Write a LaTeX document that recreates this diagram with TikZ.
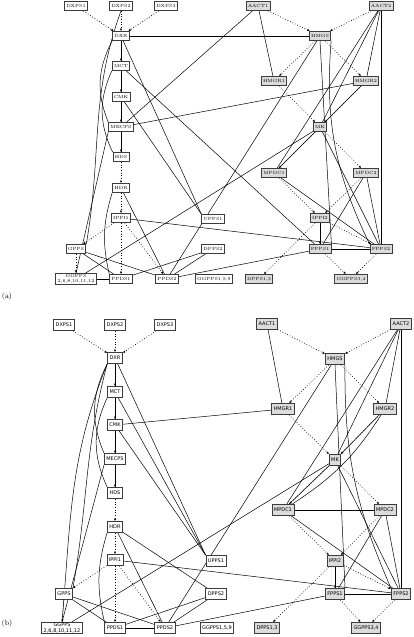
\documentclass[tikz,border=0pt]{standalone}
\usepackage{fontspec}
\newfontfamily\panelsans{DejaVu Sans}
\definecolor{mvagray}{HTML}{DCDCDC}
\definecolor{boxborder}{HTML}{3C3C3C}
\usetikzlibrary{arrows.meta,backgrounds}
\tikzset{
    genenode/.style={
        draw=boxborder,
        fill=white,
        line width=0.8pt,
        inner xsep=1.8pt,
        inner ysep=1pt,
        minimum height=9pt,
        align=center,
        font=\fontsize{4.5}{5}\selectfont
    },
    genemva/.style={
        genenode,
        fill=mvagray
    },
    sansnode/.style={
        genenode,
        inner xsep=2pt,
        minimum height=11pt,
        font=\panelsans\fontsize{5}{5.5}\selectfont
    },
    sansmva/.style={
        sansnode,
        fill=mvagray
    },
    pathwayarrow/.style={
        -{Latex[length=2.6pt,width=2.4pt]},
        dotted,
        line width=0.7pt
    },
    coexpression/.style={
        draw=black,
        line width=0.5pt
    },
    panellabel/.style={
        font=\fontsize{7.5}{8}\selectfont
    }
}

\begin{document}
\begin{tikzpicture}[x=1pt,y=-1pt]
    \useasboundingbox (0,0) rectangle (414,637);

    % (a)
    \node[genenode] (aDXPS1) at (76,6) {DXPS1};
    \node[genenode] (aDXPS2) at (121,6) {DXPS2};
    \node[genenode] (aDXPS3) at (166,6) {DXPS3};
    \node[genemva] (aAACT1) at (258,6) {AACT1};
    \node[genemva] (aAACT2) at (381,6) {AACT2};
    \node[genenode] (aDXR) at (121,36) {DXR};
    \node[genemva] (aHMGS) at (320,36) {HMGS};
    \node[genenode] (aMCT) at (121,66) {MCT};
    \node[genemva] (aHMGR1) at (274,81) {HMGR1};
    \node[genemva] (aHMGR2) at (366,81) {HMGR2};
    \node[genenode] (aCMK) at (121,97) {CMK};
    \node[genenode] (aMECPS) at (121,127) {MECPS};
    \node[genemva] (aMK) at (320,127) {MK};
    \node[genenode] (aHDS) at (121,157) {HDS};
    \node[genemva] (aMPDC1) at (274,173) {MPDC1};
    \node[genemva] (aMPDC2) at (366,173) {MPDC2};
    \node[genenode] (aHDR) at (121,188) {HDR};
    \node[genenode] (aIPPI1) at (121,218) {IPPI1};
    \node[genenode] (aUPPS1) at (213,219) {UPPS1};
    \node[genemva] (aIPPI2) at (320,218) {IPPI2};
    \node[genenode] (aGPPS) at (76,249) {GPPS};
    \node[genenode] (aDPPS2) at (213,249) {DPPS2};
    \node[genemva] (aFPPS1) at (320,249) {FPPS1};
    \node[genemva] (aFPPS2) at (381,249) {FPPS2};
    \node[genenode] (aGGPPS2) at (76,279) {GGPPS\\2,6,8,10,11,12};
    \node[genenode] (aPPDS1) at (121,279) {PPDS1};
    \node[genenode] (aPPDS2) at (167,279) {PPDS2};
    \node[genenode] (aGGPPS1) at (214,279) {GGPPS1,5,9};
    \node[genemva] (aDPPS1) at (259,279) {DPPS1,3};
    \node[genemva] (aGGPPS3) at (351,279) {GGPPS3,4};
    \node[panellabel] (alabel) at (7,297) {(a)};

    % (b)
    \node[sansnode] (bDXPS1) at (64,325) {DXPS1};
    \node[sansnode] (bDXPS2) at (115,325) {DXPS2};
    \node[sansnode] (bDXPS3) at (165,325) {DXPS3};
    \node[sansmva] (bAACT1) at (267,324) {AACT1};
    \node[sansmva] (bAACT2) at (401,324) {AACT2};
    \node[sansnode] (bDXR) at (115,358) {DXR};
    \node[sansmva] (bHMGS) at (335,359) {HMGS};
    \node[sansnode] (bMCT) at (115,392) {MCT};
    \node[sansmva] (bHMGR1) at (283,409) {HMGR1};
    \node[sansmva] (bHMGR2) at (385,409) {HMGR2};
    \node[sansnode] (bCMK) at (115,425) {CMK};
    \node[sansnode] (bMECPS) at (115,459) {MECPS};
    \node[sansmva] (bMK) at (335,460) {MK};
    \node[sansnode] (bHDS) at (115,493) {HDS};
    \node[sansmva] (bMPDC1) at (283,510) {MPDC1};
    \node[sansmva] (bMPDC2) at (385,510) {MPDC2};
    \node[sansnode] (bHDR) at (115,527) {HDR};
    \node[sansnode] (bIPPI1) at (115,560) {IPPI1};
    \node[sansnode] (bUPPS1) at (216,561) {UPPS1};
    \node[sansmva] (bIPPI2) at (335,561) {IPPI2};
    \node[sansnode] (bGPPS) at (64,594) {GPPS};
    \node[sansnode] (bDPPS2) at (216,594) {DPPS2};
    \node[sansmva] (bFPPS1) at (335,594) {FPPS1};
    \node[sansmva] (bFPPS2) at (401,594) {FPPS2};
    \node[sansnode,inner ysep=0.5pt] (bGGPPS2) at (62,628) {GGPPS\\2,6,8,10,11,12};
    \node[sansnode] (bPPDS1) at (115,628) {PPDS1};
    \node[sansnode] (bPPDS2) at (165,628) {PPDS2};
    \node[sansnode] (bGGPPS1) at (217,628) {GGPPS1,5,9};
    \node[sansmva] (bDPPS1) at (267,628) {DPPS1,3};
    \node[sansmva] (bGGPPS3) at (366,628) {GGPPS3,4};
    \node[panellabel] (blabel) at (7,624) {(b)};

    \begin{pgfonlayer}{background}
    % pathway steps (a)
    \draw[pathwayarrow] (aDXPS1) -- (aDXR);
    \draw[pathwayarrow] (aDXPS2) -- (aDXR);
    \draw[pathwayarrow] (aDXPS3) -- (aDXR);
    \draw[pathwayarrow] (aDXR) -- (aMCT);
    \draw[pathwayarrow] (aMCT) -- (aCMK);
    \draw[pathwayarrow] (aCMK) -- (aMECPS);
    \draw[pathwayarrow] (aMECPS) -- (aHDS);
    \draw[pathwayarrow] (aHDS) -- (aHDR);
    \draw[pathwayarrow] (aHDR) -- (aIPPI1);
    \draw[pathwayarrow] (aIPPI1) -- (aGPPS);
    \draw[pathwayarrow] (aIPPI1) -- (aPPDS1);
    \draw[pathwayarrow] (aIPPI1) -- (aPPDS2);
    \draw[pathwayarrow] (aGPPS) -- (aGGPPS2);
    \draw[pathwayarrow] (aAACT1) -- (aHMGS);
    \draw[pathwayarrow] (aAACT2) -- (aHMGS);
    \draw[pathwayarrow] (aHMGS) -- (aHMGR1);
    \draw[pathwayarrow] (aHMGS) -- (aHMGR2);
    \draw[pathwayarrow] (aHMGR1) -- (aMK);
    \draw[pathwayarrow] (aHMGR2) -- (aMK);
    \draw[pathwayarrow] (aMK) -- (aMPDC1);
    \draw[pathwayarrow] (aMK) -- (aMPDC2);
    \draw[pathwayarrow] (aMPDC1) -- (aIPPI2);
    \draw[pathwayarrow] (aMPDC2) -- (aIPPI2);
    \draw[pathwayarrow] (aIPPI2) -- (aFPPS1);
    \draw[pathwayarrow] (aIPPI2) -- (aFPPS2);
    \draw[pathwayarrow] (aIPPI2) -- (aDPPS1);
    \draw[pathwayarrow] (aFPPS1) -- (aGGPPS3);
    \draw[pathwayarrow] (aFPPS2) -- (aGGPPS3);

    % co-expression links (a)
    \draw[coexpression] (aDXR) -- (aMCT);
    \draw[coexpression] (aMCT) -- (aCMK);
    \draw[coexpression] (aCMK) -- (aMECPS);
    \draw[coexpression] (aMECPS) -- (aHDS);
    \draw[coexpression] (aHMGR2) -- (aMK);
    \draw[coexpression] (aMK) -- (aMPDC1);
    \draw[coexpression] (aIPPI2) -- (aFPPS1);
    \draw[coexpression] (aDXR) -- (aHMGS);
    \draw[coexpression] (aDXR) -- (aUPPS1.north west);
    \draw[coexpression] (aCMK) -- (aUPPS1.north west);
    \draw[coexpression] (aMCT) -- (aFPPS1);
    \draw[coexpression] (aMECPS) -- (aHMGR2);
    \draw[coexpression] (aMECPS) -- (aAACT1);
    \draw[coexpression] (aDXPS2.south) to[out=-110,in=80] (aGPPS.north east);
    \draw[coexpression] (aDXR.south west) to[bend right=25] (aMECPS.north west);
    \draw[coexpression] (aMCT.south west) to[bend right=25] (aHDS.north west);
    \draw[coexpression] (aMECPS.south west) -- (aGGPPS2.north);
    \draw[coexpression] (aHDR.south west) to[bend right=15] (aPPDS1.north west);
    \draw[coexpression] (aHDR) -- (aPPDS2);
    \draw[coexpression] (aGPPS) -- (aPPDS1);
    \draw[coexpression] (aGPPS) -- (aPPDS2);
    \draw[coexpression] (aDPPS2) -- (aPPDS1);
    \draw[coexpression] (aDPPS2) -- (aPPDS2);
    \draw[coexpression] (aGGPPS2) -- (aPPDS1);
    \draw[coexpression] (aIPPI1) -- (aFPPS2);
    \draw[coexpression] (aFPPS1) -- (aPPDS2);
    \draw[coexpression] (aHMGS) -- (aPPDS2);
    \draw[coexpression] (aHMGS.south) -- (aFPPS1.north east);
    \draw[coexpression] (aHMGS.south east) to[bend right=15] (aFPPS2.north west);
    \draw[coexpression] (aAACT1) -- (aHMGR1);
    \draw[coexpression] (aAACT2) -- (aHMGR2);
    \draw[coexpression] (aAACT2) -- (aMK);
    \draw[coexpression] (aAACT2) -- (aMPDC1);
    \draw[coexpression] (aAACT2) -- (aFPPS2);
    \draw[coexpression] (aMK) -- (aFPPS2);
    \draw[coexpression] (aMK) -- (aGGPPS2);
    \draw[coexpression] (aMPDC1) -- (aFPPS2);
    \draw[coexpression] (aMPDC2) -- (aFPPS1);
    \draw[coexpression] (aMPDC2) -- (aFPPS2);
    \draw[coexpression] (aFPPS1) -- (aFPPS2);

    % pathway steps (b)
    \draw[pathwayarrow] (bDXPS1) -- (bDXR);
    \draw[pathwayarrow] (bDXPS2) -- (bDXR);
    \draw[pathwayarrow] (bDXPS3) -- (bDXR);
    \draw[pathwayarrow] (bDXR) -- (bMCT);
    \draw[pathwayarrow] (bMCT) -- (bCMK);
    \draw[pathwayarrow] (bCMK) -- (bMECPS);
    \draw[pathwayarrow] (bMECPS) -- (bHDS);
    \draw[pathwayarrow] (bHDS) -- (bHDR);
    \draw[pathwayarrow] (bHDR) -- (bIPPI1);
    \draw[pathwayarrow] (bIPPI1) -- (bGPPS);
    \draw[pathwayarrow] (bIPPI1) -- (bPPDS1);
    \draw[pathwayarrow] (bIPPI1) -- (bPPDS2);
    \draw[pathwayarrow] (bGPPS) -- (bGGPPS2);
    \draw[pathwayarrow] (bAACT1) -- (bHMGS);
    \draw[pathwayarrow] (bAACT2) -- (bHMGS);
    \draw[pathwayarrow] (bHMGS) -- (bHMGR1);
    \draw[pathwayarrow] (bHMGS) -- (bHMGR2);
    \draw[pathwayarrow] (bHMGR1) -- (bMK);
    \draw[pathwayarrow] (bHMGR2) -- (bMK);
    \draw[pathwayarrow] (bMK) -- (bMPDC1);
    \draw[pathwayarrow] (bMK) -- (bMPDC2);
    \draw[pathwayarrow] (bMPDC1) -- (bIPPI2);
    \draw[pathwayarrow] (bMPDC2) -- (bIPPI2);
    \draw[pathwayarrow] (bIPPI2) -- (bFPPS1);
    \draw[pathwayarrow] (bIPPI2) -- (bFPPS2);
    \draw[pathwayarrow] (bIPPI2) -- (bDPPS1);
    \draw[pathwayarrow] (bFPPS1) -- (bGGPPS3);
    \draw[pathwayarrow] (bFPPS2) -- (bGGPPS3);

    % co-expression links (b)
    \draw[coexpression] (bDXR) -- (bMCT);
    \draw[coexpression] (bMCT) -- (bCMK);
    \draw[coexpression] (bCMK) -- (bMECPS);
    \draw[coexpression] (bMECPS) -- (bHDS);
    \draw[coexpression] (bHMGR2) -- (bMK);
    \draw[coexpression] (bMK) -- (bMPDC1);
    \draw[coexpression] (bIPPI2) -- (bFPPS1);
    \draw[coexpression] (bDXR) -- (bUPPS1.north west);
    \draw[coexpression] (bMCT) -- (bUPPS1.north west);
    \draw[coexpression] (bCMK) -- (bUPPS1.north west);
    \draw[coexpression] (bCMK) -- (bHMGR1);
    \draw[coexpression] (bDXR.south west) to[out=-105,in=80] (bGPPS.north east);
    \draw[coexpression] (bDXR.south west) to[out=-112,in=85] (bGGPPS2.north);
    \draw[coexpression] (bDXR.south west) to[bend right=25] (bMECPS.north west);
    \draw[coexpression] (bMCT.south west) to[bend right=25] (bHDS.north west);
    \draw[coexpression] (bMECPS.south west) -- (bGGPPS2.north);
    \draw[coexpression] (bHDR.south west) to[bend right=15] (bPPDS1.north west);
    \draw[coexpression] (bHDR) -- (bPPDS2);
    \draw[coexpression] (bHDR) -- (bDPPS2);
    \draw[coexpression] (bGPPS) -- (bPPDS1);
    \draw[coexpression] (bGPPS) -- (bPPDS2);
    \draw[coexpression] (bDPPS2) -- (bPPDS1);
    \draw[coexpression] (bDPPS2) -- (bPPDS2);
    \draw[coexpression] (bPPDS1) -- (bPPDS2);
    \draw[coexpression] (bIPPI1) -- (bFPPS2);
    \draw[coexpression] (bFPPS1) -- (bPPDS2);
    \draw[coexpression] (bHMGS) -- (bPPDS2);
    \draw[coexpression] (bHMGS.south) -- (bFPPS1.north east);
    \draw[coexpression] (bHMGS.south east) to[bend right=12] (bFPPS2.north west);
    \draw[coexpression] (bAACT1) -- (bHMGR1);
    \draw[coexpression] (bAACT2) -- (bHMGR2);
    \draw[coexpression] (bAACT2) -- (bMK);
    \draw[coexpression] (bAACT2) -- (bMPDC1);
    \draw[coexpression] (bAACT2) -- (bFPPS2);
    \draw[coexpression] (bHMGR2) to[bend left=12] (bMPDC1);
    \draw[coexpression] (bMK) -- (bFPPS2);
    \draw[coexpression] (bMK) -- (bGGPPS2);
    \draw[coexpression] (bMPDC1) -- (bMPDC2);
    \draw[coexpression] (bMPDC1) -- (bFPPS2);
    \draw[coexpression] (bMPDC2) -- (bFPPS1);
    \draw[coexpression] (bMPDC2) -- (bFPPS2);
    \draw[coexpression] (bFPPS1) -- (bFPPS2);
    \end{pgfonlayer}
\end{tikzpicture}
\end{document}
